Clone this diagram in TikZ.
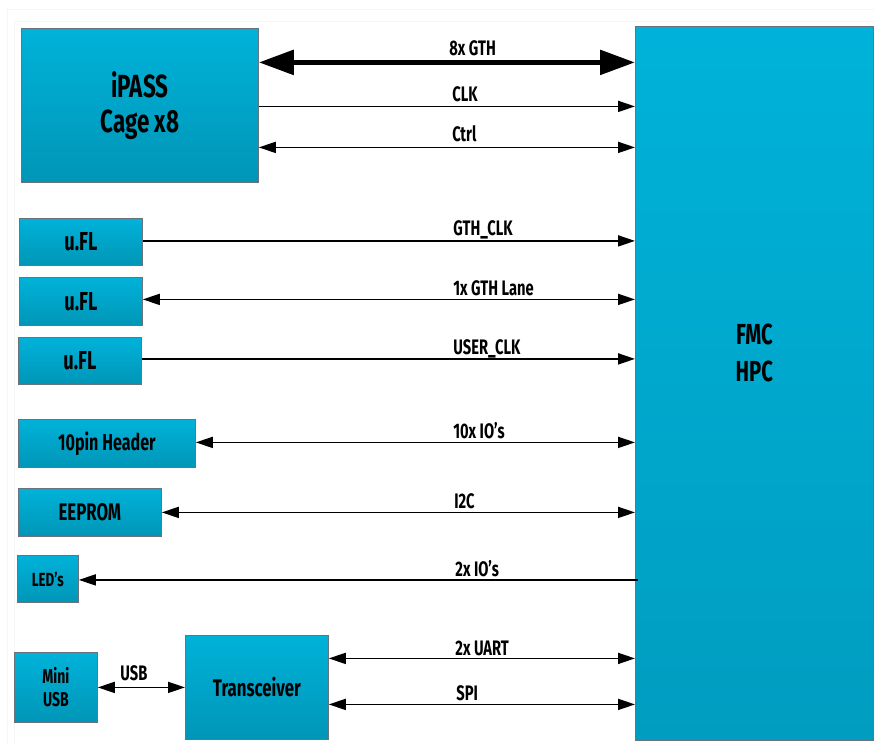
\documentclass[tikz,border=0pt]{standalone}
\usepackage{fontspec}
\setmainfont{Fira Sans}[FakeStretch=0.7]
\usepackage{tikz}
\usetikzlibrary{arrows.meta}

\definecolor{cyantop}{RGB}{0,178,217}
\definecolor{cyanbot}{RGB}{0,150,183}
\definecolor{fmcbot}{RGB}{0,157,192}
\definecolor{edgegray}{RGB}{105,115,125}
\newcommand{\fsz}[2]{\fontsize{#1}{#2}\selectfont}

\begin{document}
\begin{tikzpicture}[x=1pt, y=-1pt, line width=0.8pt,
  blk/.style={draw=edgegray, top color=cyantop, bottom color=cyanbot, anchor=north west,
    inner sep=0pt, align=center, font=\bfseries},
  sig/.style={line width=1.8pt},
  both/.style={{Triangle[length=17pt,width=11pt]}-{Triangle[length=17pt,width=11pt]}},
  fwd/.style={-{Triangle[length=17pt,width=11pt]}},
  lbl/.style={font=\bfseries\fsz{21}{24}, anchor=base west, inner sep=0pt}]
  \useasboundingbox (0,0) rectangle (874,745);
  \fill[white] (0,0) rectangle (874,745);
  \draw[black!4, line width=1pt] (7,745) -- (7,9) -- (874,9);
  \draw[black!4, line width=1pt] (14,745) -- (14,21) -- (874,21);

  % blocks
  \node[blk, minimum width=238pt, minimum height=714pt, bottom color=fmcbot] (fmc) at (635,26) {};
  \node[font=\bfseries\fsz{29}{37}, align=center] (fmctext) at ([yshift=30pt]fmc.center) {FMC\\HPC};
  \node[blk, minimum width=237pt, minimum height=154pt, font=\bfseries\fsz{32}{35}] (ipass) at (21,28) {iPASS\\Cage x8};
  \node[blk, minimum width=123pt, minimum height=47pt, font=\bfseries\fsz{26}{30}] (ufla) at (19,218) {u.FL};
  \node[blk, minimum width=123pt, minimum height=48pt, font=\bfseries\fsz{26}{30}] (uflb) at (19,277) {u.FL};
  \node[blk, minimum width=123pt, minimum height=47pt, font=\bfseries\fsz{26}{30}] (uflc) at (18,337) {u.FL};
  \node[blk, minimum width=177pt, minimum height=48pt, font=\bfseries\fsz{23}{26}] (header) at (18,419) {10pin Header};
  \node[blk, minimum width=143pt, minimum height=48pt, font=\bfseries\fsz{24}{28}] (eeprom) at (18,488) {EEPROM};
  \node[blk, minimum width=61pt, minimum height=47pt, font=\bfseries\fsz{19}{22}] (leds) at (17,555) {LED’s};
  \node[blk, minimum width=83pt, minimum height=70pt, font=\bfseries\fsz{20}{23}] (minusb) at (14,652) {Mini\\USB};
  \node[blk, minimum width=143pt, minimum height=104pt, font=\bfseries\fsz{24}{28}] (trans) at (185,635) {Transceiver};

  % connectors
  \draw[line width=5.5pt, {Triangle[length=35pt,width=24pt]}-{Triangle[length=35pt,width=24pt]}]
    ([yshift=43pt]ipass.east) -- ([yshift=43pt]ipass.east -| fmc.west);
  \draw[sig, fwd] ([yshift=-1pt]ipass.east) -- ([yshift=-1pt]ipass.east -| fmc.west);
  \draw[sig, both] ([yshift=-42pt]ipass.east) -- ([yshift=-42pt]ipass.east -| fmc.west);
  \draw[sig, fwd] ([yshift=1pt]ufla.east) -- ([yshift=1pt]ufla.east -| fmc.west);
  \draw[sig, both] ([yshift=2pt]uflb.east) -- ([yshift=2pt]uflb.east -| fmc.west);
  \draw[sig, fwd] ([yshift=2pt]uflc.east) -- ([yshift=2pt]uflc.east -| fmc.west);
  \draw[sig, both] ([yshift=1pt]header.east) -- ([yshift=1pt]header.east -| fmc.west);
  \draw[sig, both] (eeprom.east) -- (eeprom.east -| fmc.west);
  \draw[sig, fwd] ([xshift=3pt,yshift=-1pt]fmc.west |- leds.east) -- ([yshift=-1pt]leds.east);
  \draw[sig, both] ([yshift=29pt]trans.east) -- ([yshift=29pt]trans.east -| fmc.west);
  \draw[sig, both] ([yshift=-17pt]trans.east) -- ([yshift=-17pt]trans.east -| fmc.west);
  \draw[sig, both] (minusb.east) -- (trans.west);

  % signal names
  \node[lbl] (lgth) at (449,55) {8x GTH};
  \node[lbl] (lclk) at (452,101) {CLK};
  \node[lbl] (lctrl) at (452,141) {Ctrl};
  \node[lbl] (lgthclk) at (453,235) {GTH\_CLK};
  \node[lbl] (llane) at (453,295) {1x GTH Lane};
  \node[lbl] (luserclk) at (453,354) {USER\_CLK};
  \node[lbl] (lio) at (453,438) {10x IO’s};
  \node[lbl] (li2c) at (454,508) {I2C};
  \node[lbl] (lled) at (455,576) {2x IO’s};
  \node[lbl] (luart) at (455,655) {2x UART};
  \node[lbl] (lspi) at (456,700) {SPI};
  \node[lbl] (lusb) at (120,680) {USB};
\end{tikzpicture}
\end{document}
